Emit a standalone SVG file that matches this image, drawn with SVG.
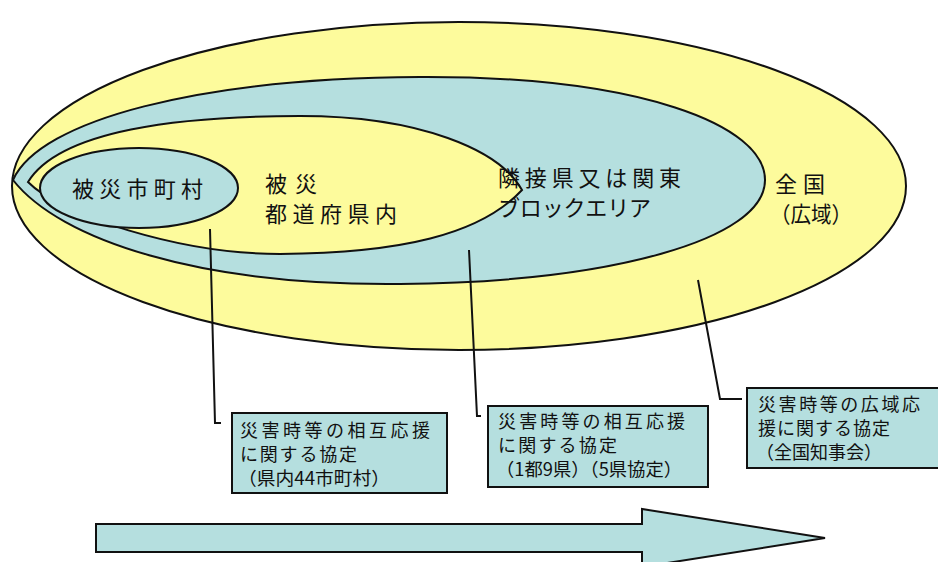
<svg xmlns="http://www.w3.org/2000/svg" width="938" height="562" viewBox="0 0 938 562">
<style>
.y{fill:#FDFB9C;stroke:#111;stroke-width:2}
.b{fill:#B5DFDF;stroke:#111;stroke-width:2}
.t{font-family:"Noto Sans CJK JP","Noto Sans",sans-serif;fill:#111}
.big{font-size:22px}
.sm{font-size:18px}
.ln{fill:none;stroke:#111;stroke-width:2}
</style>
<rect width="938" height="562" fill="#fff"/>
<g id="zenkoku">
<ellipse class="y" cx="459" cy="186" rx="447" ry="164"/>
<text class="t big" x="775" y="192" textLength="50">全国</text>
<text class="t big" x="770" y="222" textLength="82" lengthAdjust="spacingAndGlyphs">（広域）</text>
</g>
<g id="rinsetsu">
<path class="b" d="M13,180 C40,120 200,78 420,77 C640,76 765,125 765,180 C765,240 610,282 400,284 C200,286 60,240 13,180 Z"/>
</g>
<g id="todofuken">
<path class="y" d="M28,182 C60,130 180,116 300,116 C420,116 500,150 522,190 C480,235 400,253 280,254 C180,254 60,215 28,182 Z"/>
<text class="t big" x="265" y="192" textLength="52">被災</text>
<text class="t big" x="265" y="222" textLength="132">都道府県内</text>
</g>
<g id="rinsetsu-label">
<text class="t big" x="498" y="186" textLength="183">隣接県又は関東</text>
<text class="t big" x="498" y="216" textLength="153">ブロックエリア</text>
</g>
<g id="shichoson">
<ellipse class="b" cx="139" cy="188" rx="99" ry="40"/>
<text class="t big" x="72" y="197" textLength="131">被災市町村</text>
</g>
<g id="connectors">
<polyline class="ln" points="210,229 215,423 221,423"/>
<polyline class="ln" points="469,250 477,416 481,416"/>
<polyline class="ln" points="698,280 720,399 742,399"/>
</g>
<g id="kyotei1">
<rect class="b" x="232" y="413" width="215" height="80"/>
<text class="t sm" x="240" y="437" textLength="190">災害時等の相互応援</text>
<text class="t sm" x="240" y="461" textLength="117">に関する協定</text>
<text class="t sm" x="238" y="485" textLength="152" lengthAdjust="spacingAndGlyphs">（県内44市町村）</text>
</g>
<g id="kyotei2">
<rect class="b" x="488" y="406" width="220" height="81"/>
<text class="t sm" x="498" y="428" textLength="187">災害時等の相互応援</text>
<text class="t sm" x="498" y="452" textLength="119">に関する協定</text>
<text class="t sm" x="496" y="476" textLength="186" lengthAdjust="spacingAndGlyphs">（1都9県）（5県協定）</text>
</g>
<g id="kyotei3">
<rect class="b" x="747" y="388" width="200" height="80"/>
<text class="t sm" x="758" y="411" textLength="162">災害時等の広域応</text>
<text class="t sm" x="758" y="435" textLength="132">援に関する協定</text>
<text class="t sm" x="756" y="459" textLength="126" lengthAdjust="spacingAndGlyphs">（全国知事会）</text>
</g>
<g id="arrow">
<path class="b" d="M96,524 H642 V509 L825,538 L642,567 V552 H96 Z"/>
</g>
</svg>
